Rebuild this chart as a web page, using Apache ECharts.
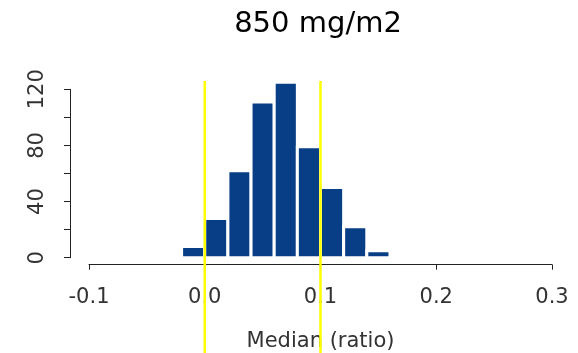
<!DOCTYPE html>
<html>
<head>
<meta charset="utf-8">
<script src="https://cdn.jsdelivr.net/npm/echarts@6/dist/echarts.min.js"></script>
<style>
html,body{margin:0;padding:0;background:#fff;}
#chart{width:578px;height:353px;}
</style>
</head>
<body>
<div id="chart"></div>
<script>
// ---- data ----
const titleText = '850 mg/m2';
const xAxisTitle = 'Median (ratio)';
const binStarts = [-0.02, 0.00, 0.02, 0.04, 0.06, 0.08, 0.10, 0.12, 0.14];
const binEnds   = [ 0.00, 0.02, 0.04, 0.06, 0.08, 0.10, 0.12, 0.14, 0.16];
const counts    = [8, 28, 62, 111, 125, 79, 50, 22, 5];
const refLines  = [0.0, 0.1];
const xTicks    = [-0.1, 0.0, 0.1, 0.2, 0.3];
const yTickLabels = [0, 40, 80, 120];

// ---- chart ----
const FONT = 'DejaVu Sans';
const barData = binStarts.map((s, i) => [s, binEnds[i], counts[i]]);
const lineData = refLines.map(v => [v]);

const chart = echarts.init(document.getElementById('chart'), null, {renderer: 'canvas'});
chart.setOption({
  animation: false,
  backgroundColor: '#ffffff',
  title: {
    text: titleText,
    left: 313,
    textAlign: 'center',
    top: 5,
    textStyle: {fontFamily: FONT, fontSize: 29, fontWeight: 'normal', color: '#000'}
  },
  grid: {left: 89, right: 26, top: 89.3, bottom: 95.3},
  xAxis: {
    type: 'value',
    min: xTicks[0],
    max: xTicks[xTicks.length - 1],
    interval: 0.1,
    offset: 7,
    name: xAxisTitle,
    nameLocation: 'middle',
    nameGap: 66,
    nameTextStyle: {fontFamily: FONT, fontSize: 21, color: '#333'},
    axisLine: {show: true, onZero: false, lineStyle: {color: '#222', width: 1}},
    axisTick: {show: true, inside: false, length: 5, lineStyle: {color: '#222'}},
    splitLine: {show: false},
    axisLabel: {
      margin: 22,
      fontFamily: FONT, fontSize: 21, color: '#333',
      formatter: v => {
        const r = Math.round(v * 10) / 10;
        const t = xTicks.find(x => Math.abs(x - r) < 1e-9);
        return t === undefined ? '' : (Math.abs(t) < 1e-9 ? '0.0' : t.toFixed(1));
      }
    }
  },
  yAxis: {
    type: 'value',
    min: 0,
    max: 120,
    interval: 20,
    offset: 19,
    axisLine: {show: true, onZero: false, lineStyle: {color: '#222', width: 1}},
    axisTick: {show: true, inside: false, length: 6, lineStyle: {color: '#222'}},
    splitLine: {show: false},
    axisLabel: {
      rotate: 90,
      margin: 22,
      fontFamily: FONT, fontSize: 21, color: '#333',
      formatter: v => yTickLabels.indexOf(Math.round(v)) >= 0 ? String(Math.round(v)) : ''
    }
  },
  series: [
    {
      type: 'custom',
      data: barData,
      encode: {x: [0, 1], y: 2},
      renderItem: (params, api) => {
        const p0 = api.coord([api.value(0), api.value(2)]);
        const p1 = api.coord([api.value(1), 0]);
        return {
          type: 'rect',
          shape: {x: p0[0], y: p0[1], width: p1[0] - p0[0], height: p1[1] - p0[1]},
          style: {fill: '#083e86', stroke: '#ffffff', lineWidth: 3}
        };
      }
    },
    {
      type: 'custom',
      data: lineData,
      encode: {x: 0},
      clip: false,
      z: 5,
      renderItem: (params, api) => {
        const top = api.coord([api.value(0), 126]);
        return {
          type: 'line',
          shape: {x1: top[0], y1: top[1], x2: top[0], y2: api.getHeight()},
          style: {stroke: '#ffff00', lineWidth: 2.5}
        };
      }
    }
  ]
});
</script>
</body>
</html>
